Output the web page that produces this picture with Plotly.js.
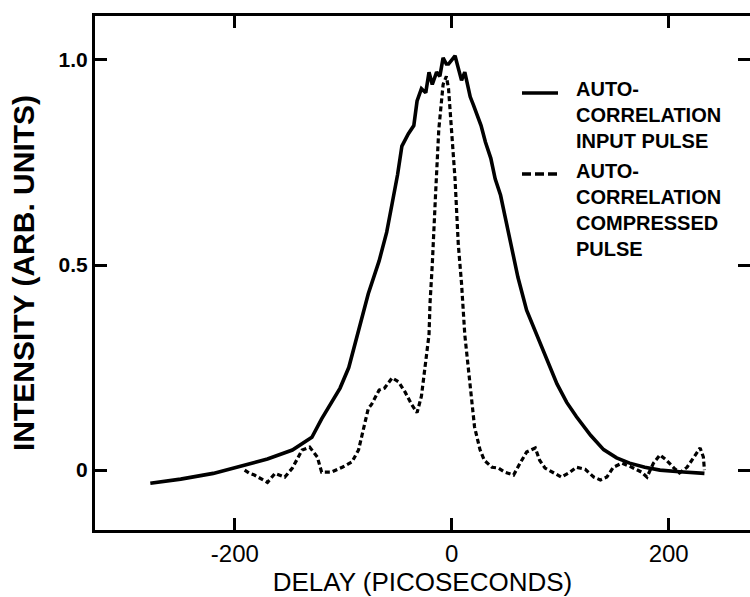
<!DOCTYPE html>
<html>
<head>
<meta charset="utf-8">
<script src="https://cdn.plot.ly/plotly-3.0.1.min.js"></script>
<style>
  html, body { margin: 0; padding: 0; background: #fff; overflow: hidden; }
  #chart { width: 750px; height: 597px; }
</style>
</head>
<body>
<div id="chart"></div>
<script>
// Input pulse autocorrelation (solid)
const inputDelay = [-278, -250, -220, -193, -170, -147, -129, -120, -111, -103, -95, -86, -77, -67, -60, -55, -50, -46, -40, -35, -32, -28, -24, -21, -18, -14, -11, -8, -5, -3, 0, 3, 6, 9, 12, 15, 17, 20, 23, 27, 31, 36, 40, 45, 49, 55, 61, 69, 77, 85, 97, 106, 115, 128, 140, 152, 164, 178, 192, 210, 233];
const inputIntensity = [-0.032, -0.022, -0.008, 0.01, 0.027, 0.049, 0.08, 0.125, 0.163, 0.2, 0.25, 0.34, 0.43, 0.51, 0.58, 0.65, 0.72, 0.79, 0.82, 0.84, 0.90, 0.93, 0.92, 0.97, 0.94, 0.97, 0.96, 1.005, 0.99, 0.99, 1.0, 1.01, 0.98, 0.95, 0.97, 0.93, 0.91, 0.89, 0.87, 0.84, 0.80, 0.76, 0.71, 0.67, 0.62, 0.55, 0.47, 0.39, 0.34, 0.29, 0.21, 0.165, 0.13, 0.085, 0.05, 0.03, 0.017, 0.007, 0.0, -0.004, -0.008];

// Compressed pulse autocorrelation (dashed)
const compDelay = [-191, -187, -182, -176, -170, -163, -154, -147, -138, -131, -124, -120, -111, -101, -92, -86, -80, -77, -74, -67, -62, -55, -49, -43, -37, -32, -28, -25, -21, -20, -18, -15, -12, -8, -5, -3, 0, 3, 6, 9, 12, 17, 21, 26, 30, 37, 43, 49, 57, 63, 69, 77, 81, 86, 95, 101, 109, 115, 123, 131, 137, 143, 149, 157, 166, 175, 180, 186, 192, 198, 205, 210, 217, 223, 229, 232, 233];
const compIntensity = [0.0, -0.007, -0.012, -0.02, -0.03, -0.008, -0.017, 0.005, 0.049, 0.056, 0.032, -0.005, -0.005, 0.007, 0.02, 0.049, 0.12, 0.15, 0.16, 0.195, 0.20, 0.225, 0.215, 0.19, 0.16, 0.14, 0.18, 0.25, 0.33, 0.41, 0.5, 0.67, 0.83, 0.94, 0.96, 0.93, 0.83, 0.71, 0.55, 0.455, 0.33, 0.21, 0.105, 0.05, 0.024, 0.007, 0.005, -0.005, -0.012, 0.017, 0.044, 0.054, 0.024, 0.005, -0.007, -0.017, -0.005, 0.007, 0.002, -0.017, -0.024, -0.017, 0.007, 0.017, 0.007, -0.005, -0.017, 0.017, 0.037, 0.024, 0.005, -0.007, 0.007, 0.032, 0.054, 0.032, 0.0];

const xTicks = [-200, 0, 200];
const xTickLabels = ['-200', '0', '200'];
const yTicks = [0, 0.5, 1.0];
const yTickLabels = ['0', '0.5', '1.0'];

// Legend text lines (custom key)
const legendInput = ['AUTO-', 'CORRELATION', 'INPUT PULSE'];
const legendCompressed = ['AUTO-', 'CORRELATION', 'COMPRESSED', 'PULSE'];

const FONT = '"Liberation Sans", Arial, sans-serif';

// plot-area geometry helpers (pixels -> paper fractions)
const M = { l: 95, r: 0, t: 16, b: 67 };
const W = 750, H = 597;
const PW = W - M.l - M.r, PH = H - M.t - M.b;
const px = v => (v - M.l) / PW;
const py = v => (H - M.b - v) / PH;

const traces = [
  {
    x: inputDelay, y: inputIntensity, type: 'scatter', mode: 'lines',
    name: 'AUTO-CORRELATION INPUT PULSE',
    line: { color: '#000', width: 3.6 }
  },
  {
    x: compDelay, y: compIntensity, type: 'scatter', mode: 'lines', yaxis: 'y2',
    name: 'AUTO-CORRELATION COMPRESSED PULSE',
    line: { color: '#000', width: 3.2, dash: '5px,3px' }
  }
];

const keyFont = { family: FONT, size: 20, color: '#000' };
const annotations = [
  { xref: 'paper', yref: 'paper', x: px(574), y: py(115), xanchor: 'left', yanchor: 'middle',
    align: 'left', showarrow: false, font: keyFont,
    text: '<b>' + legendInput.join('<br>') + '</b>' },
  { xref: 'paper', yref: 'paper', x: px(574), y: py(210), xanchor: 'left', yanchor: 'middle',
    align: 'left', showarrow: false, font: keyFont,
    text: '<b>' + legendCompressed.join('<br>') + '</b>' }
];

const shapes = [
  { type: 'line', xref: 'paper', yref: 'paper', x0: px(522), x1: px(558), y0: py(93), y1: py(93),
    line: { color: '#000', width: 3.6 } },
  { type: 'line', xref: 'paper', yref: 'paper', x0: px(522), x1: px(558), y0: py(174), y1: py(174),
    line: { color: '#000', width: 3.6, dash: '9px,4px' } }
];

const layout = {
  width: W, height: H,
  margin: M,
  paper_bgcolor: '#fff', plot_bgcolor: '#fff',
  font: { family: FONT, color: '#000' },
  showlegend: false,
  annotations: annotations,
  shapes: shapes,
  xaxis: {
    range: [-329, 275], showgrid: false, zeroline: false,
    showline: true, linecolor: '#000', linewidth: 3, mirror: 'ticks',
    ticks: 'inside', ticklen: 12, tickwidth: 3, tickcolor: '#000',
    tickvals: xTicks, ticktext: xTickLabels,
    tickfont: { family: FONT, size: 24, color: '#000' },
    title: { text: 'DELAY (PICOSECONDS)', font: { family: FONT, size: 26, color: '#000' }, standoff: 6 }
  },
  yaxis: {
    range: [-0.146, 1.107], showgrid: false, zeroline: false,
    showline: true, linecolor: '#000', linewidth: 3,
    ticks: 'inside', ticklen: 12, tickwidth: 3, tickcolor: '#000',
    tickvals: yTicks, ticktext: yTickLabels,
    tickfont: { family: FONT, size: 21, color: '#000', weight: 'bold' },
    title: { text: '<b>INTENSITY (ARB. UNITS)</b>', font: { family: FONT, size: 30, color: '#000' }, standoff: 16 }
  },
  yaxis2: {
    overlaying: 'y', side: 'right', matches: 'y', anchor: 'x',
    showgrid: false, zeroline: false, showline: false,
    ticks: 'inside', ticklen: 12, tickwidth: 3, tickcolor: '#000',
    tickvals: yTicks, showticklabels: false
  }
};

Plotly.newPlot('chart', traces, layout, { displayModeBar: false, staticPlot: true });
</script>
</body>
</html>
